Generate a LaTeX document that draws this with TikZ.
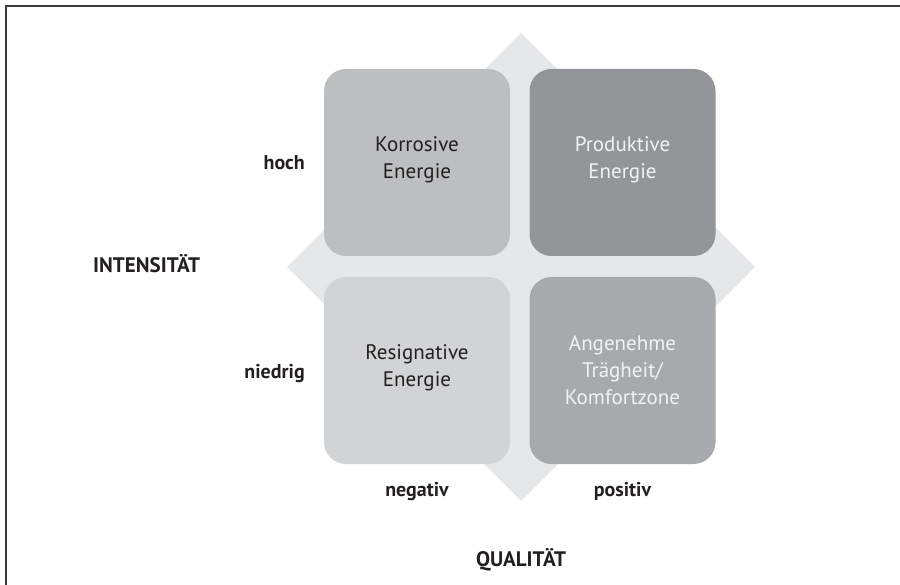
\documentclass[tikz,border=0pt]{standalone}
\usepackage{fontspec}
\setmainfont{PT Sans}
\usetikzlibrary{calc}
\definecolor{ink}{HTML}{231F20}
\definecolor{framegray}{HTML}{3A3A3A}
\definecolor{diam}{HTML}{E6E7E8}
\definecolor{gTL}{HTML}{BCBEC0}
\definecolor{gTR}{HTML}{939598}
\definecolor{gBL}{HTML}{D1D3D4}
\definecolor{gBR}{HTML}{A7A9AC}
\definecolor{paletext}{HTML}{F1F2F2}
\tikzset{
  quad/.style={rounded corners=22pt, minimum width=186pt, minimum height=187pt, inner sep=0pt, draw=none},
  boxtext/.style={align=center, font=\fontsize{21}{27}\selectfont, inner sep=0pt},
  axislabel/.style={font=\fontsize{20}{22}\selectfont\bfseries, text=ink, inner sep=0pt},
  axistitle/.style={font=\fontsize{21}{23}\selectfont\bfseries, text=ink, inner sep=0pt}
}
\begin{document}
\begin{tikzpicture}[x=1pt,y=-1pt]
\useasboundingbox (0,0) rectangle (900,585);
% outer frame, open towards right and bottom
\draw[line width=1.6pt, framegray] (6,590) -- (6,6) -- (905,6);
% background diamond
\fill[diam] (521,33) -- (755,267) -- (521,501) -- (287,267) -- cycle;
% the four quadrants
\node[quad, fill=gTL] (kor) at (417,162.5) {};
\node[quad, fill=gTR] (pro) at (622.5,162.5) {};
\node[quad, fill=gBL] (res) at (417,370.5) {};
\node[quad, fill=gBR] (ang) at (622.5,370.5) {};
% quadrant texts
\node[boxtext, text=ink] (korT) at ($(kor.center)+(0,-3)$) {Korrosive\\Energie};
\node[boxtext, text=paletext] (proT) at ($(pro.center)+(0,-3)$) {Produktive\\Energie};
\node[boxtext, text=ink] (resT) at ($(res.center)+(0,-3)$) {Resignative\\Energie};
\node[boxtext, text=paletext] (angT) at ($(ang.center)+(0,0)$) {Angenehme\\Trägheit/\\Komfortzone};
% axis labels
\node[axislabel, anchor=base east] (hoch) at (305,170) {hoch};
\node[axislabel, anchor=base east] (niedrig) at (305,378) {niedrig};
\node[axislabel, anchor=base] (neg) at (417,496) {negativ};
\node[axislabel, anchor=base] (pos) at (622.5,496) {positiv};
\node[axistitle, anchor=base west] (int) at (93,273) {INTENSITÄT};
\node[axistitle, anchor=base] (qual) at (521,566) {QUALITÄT};
\end{tikzpicture}
\end{document}
